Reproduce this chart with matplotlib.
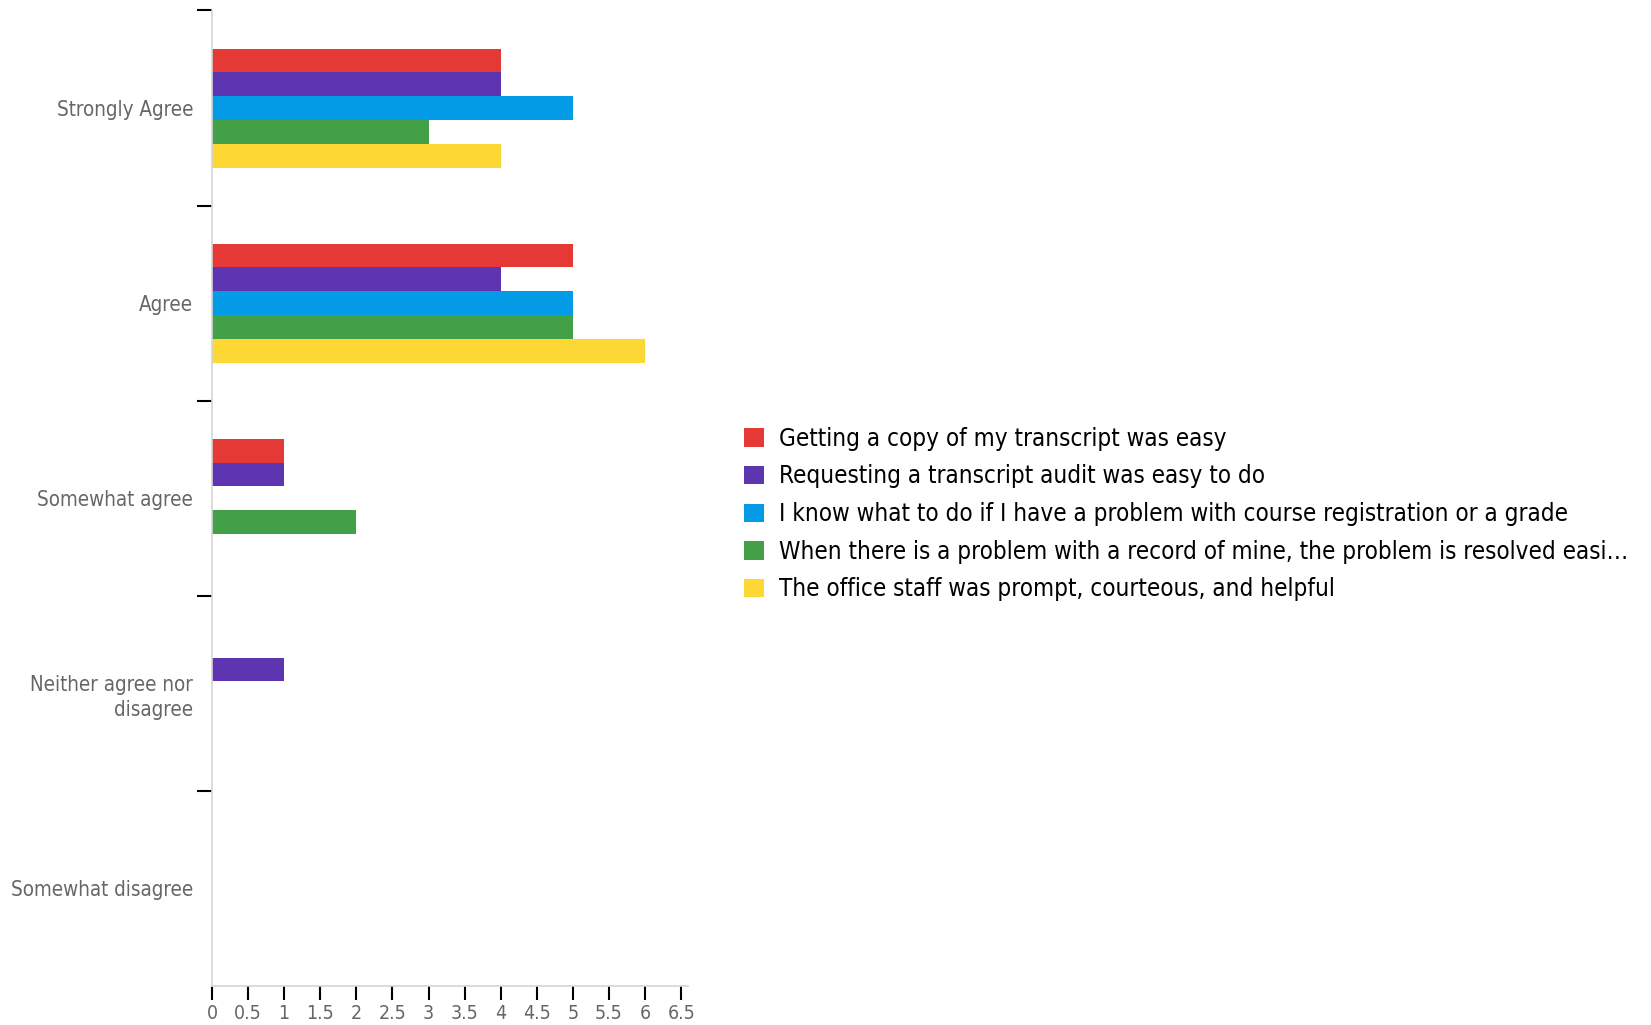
import numpy as np
import matplotlib
matplotlib.use("Agg")
import matplotlib.pyplot as plt
from matplotlib.patches import Patch

plt.rcParams["font.family"] = ["DejaVu Sans"]

# ------------------------------------------
# data
# ------------------------------------------
categories = [
    "Strongly Agree",
    "Agree",
    "Somewhat agree",
    "Neither agree nor\ndisagree",
    "Somewhat disagree",
]

series_names = [
    "Getting a copy of my transcript was easy",
    "Requesting a transcript audit was easy to do",
    "I know what to do if I have a problem with course registration or a grade",
    "When there is a problem with a record of mine, the problem is resolved easi\u2026",
    "The office staff was prompt, courteous, and helpful",
]

transcript_copy = [4, 5, 1, 0, 0]
transcript_audit = [4, 4, 1, 1, 0]
registration = [5, 5, 0, 0, 0]
record_problem = [3, 5, 2, 0, 0]
office_staff = [4, 6, 0, 0, 0]

series_values = [transcript_copy, transcript_audit, registration, record_problem, office_staff]
colors = ["#E53935", "#5E35B1", "#039BE5", "#43A047", "#FDD835"]

x_ticks = np.arange(0, 7, 0.5)

# ------------------------------------------
# figure
# ------------------------------------------
fig = plt.figure(figsize=(16.51, 10.25), dpi=100)
ax = fig.add_axes([0.1284, 0.038, 0.2886, 0.9518])

bar_h = 0.122
y = np.arange(len(categories))
for i, (vals, col) in enumerate(zip(series_values, colors)):
    ax.barh(y + (i - 2) * bar_h, vals, height=bar_h, color=col, linewidth=0)

ax.set_ylim(len(categories) - 0.5, -0.5)
ax.set_xlim(0, 6.6)

# category labels at centres, tick marks at boundaries
ax.set_yticks(y)
ax.set_yticklabels(categories, color="#666666", fontsize=14.8, fontstretch="condensed",
                   linespacing=1.3)
ax.tick_params(axis="y", which="major", length=0, pad=13.5)
ax.set_yticks(np.arange(-0.5, len(categories) - 1, 1), minor=True)
ax.tick_params(axis="y", which="minor", length=11, width=1.5, color="black", direction="out")

ax.set_xticks(x_ticks)
ax.set_xticklabels([f"{v:g}" for v in x_ticks], color="#666666", fontsize=14,
                   fontstretch="condensed")
ax.tick_params(axis="x", length=10, width=1.5, color="black", pad=3)

for side in ["top", "right"]:
    ax.spines[side].set_visible(False)
for side in ["left", "bottom"]:
    ax.spines[side].set_color("#d4d4d4")
    ax.spines[side].set_linewidth(1.2)

handles = [Patch(facecolor=c, edgecolor="none") for c in colors]
fig.legend(
    handles, series_names,
    loc="upper left",
    bbox_to_anchor=(0.445, 0.593),
    frameon=False,
    prop={"size": 17.4, "stretch": "condensed"},
    handlelength=0.8,
    handleheight=0.8,
    handletextpad=0.64,
    labelspacing=0.565,
    borderaxespad=0,
)

fig.savefig("out.png", dpi=100)
